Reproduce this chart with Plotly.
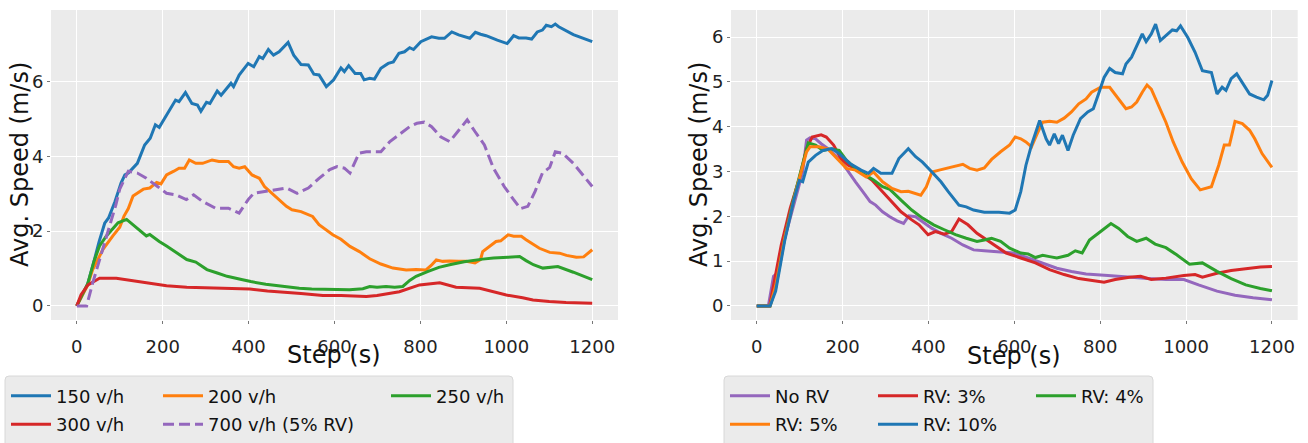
import plotly.graph_objects as go
from plotly.subplots import make_subplots

W, H = 1308, 443

# ---------------- data: left panel (traffic flow) ----------------
FLOW_150 = [(0,0),(25,0.57),(40,1.19),(52,1.72),(65,2.21),(74,2.35),(89,2.79),(103,3.28),(112,3.5),(120,3.55),
            (141,3.81),(158,4.3),(171,4.48),(183,4.84),(192,4.77),(209,5.1),(230,5.5),(238,5.46),(253,5.7),(268,5.41),
            (281,5.37),(289,5.2),(302,5.44),(310,5.41),(327,5.74),(336,5.63),(359,5.95),(365,5.86),(378,6.17),(399,6.48),
            (412,6.39),(425,6.66),(433,6.61),(446,6.85),(458,6.7),(471,6.79),(492,7.04),(505,6.7),(522,6.45),(539,6.44),
            (552,6.19),(564,6.17),(581,5.86),(598,6.04),(615,6.36),(623,6.26),(633,6.42),(648,6.21),(661,6.21),(669,6.04),
            (682,6.08),(693,6.06),(708,6.35),(725,6.48),(737,6.52),(750,6.75),(763,6.79),(775,6.9),(784,6.85),(801,7.06),
            (826,7.19),(843,7.15),(856,7.15),(873,7.32),(889,7.24),(915,7.15),(928,7.31),(940,7.26),(953,7.22),(979,7.1),
            (1002,7.01),(1017,7.22),(1029,7.16),(1046,7.16),(1059,7.13),(1072,7.32),(1084,7.37),(1093,7.5),(1105,7.46),
            (1114,7.53),(1122,7.46),(1156,7.25),(1200,7.06)]
FLOW_200 = [(0,0),(25,0.55),(37,0.97),(61,1.51),(84,1.87),(100,2.1),(110,2.4),(120,2.6),(131,2.94),(155,3.12),
            (170,3.15),(186,3.3),(196,3.26),(209,3.5),(226,3.6),(238,3.68),(251,3.68),(262,3.9),(277,3.81),(293,3.81),
            (315,3.9),(331,3.86),(353,3.86),(365,3.72),(378,3.68),(391,3.72),(408,3.5),(425,3.41),(437,3.19),(454,3.01),
            (467,2.88),(488,2.66),(501,2.57),(522,2.52),(549,2.39),(564,2.17),(596,1.9),(615,1.78),(636,1.59),(658,1.45),
            (682,1.26),(708,1.12),(736,1.01),(767,0.96),(790,0.97),(813,0.96),(825,1.08),(837,1.23),(852,1.19),(868,1.2),
            (889,1.19),(907,1.19),(927,1.15),(940,1.24),(945,1.45),(961,1.59),(976,1.72),(987,1.74),(1004,1.9),(1017,1.86),
            (1035,1.86),(1046,1.77),(1063,1.64),(1077,1.54),(1101,1.43),(1124,1.41),(1140,1.35),(1163,1.3),(1180,1.31),
            (1190,1.41),(1200,1.5)]
FLOW_250 = [(0,0),(26,0.61),(40,1.19),(53,1.6),(69,1.87),(96,2.22),(116,2.31),(139,2.09),(162,1.87),(170,1.91),
            (192,1.72),(209,1.6),(238,1.37),(256,1.24),(277,1.17),(303,0.97),(327,0.88),(350,0.79),(386,0.7),(405,0.65),
            (440,0.58),(483,0.52),(518,0.47),(547,0.45),(592,0.45),(635,0.43),(666,0.46),(682,0.52),(699,0.5),(720,0.52),
            (740,0.5),(759,0.52),(775,0.68),(790,0.79),(818,0.92),(843,1.03),(868,1.1),(902,1.18),(945,1.25),(970,1.28),
            (1004,1.3),(1031,1.32),(1046,1.21),(1063,1.1),(1085,1.01),(1105,1.03),(1120,1.05),(1156,0.9),(1200,0.7)]
FLOW_300 = [(0,0),(10,0.3),(26,0.56),(53,0.74),(92,0.74),(131,0.67),(170,0.59),(209,0.54),(256,0.5),(303,0.48),
            (366,0.45),(403,0.45),(444,0.4),(488,0.37),(522,0.33),(573,0.28),(615,0.28),(674,0.25),(699,0.28),(751,0.38),
            (784,0.52),(798,0.56),(845,0.62),(883,0.5),(938,0.47),(970,0.37),(1000,0.29),(1038,0.22),(1062,0.16),
            (1100,0.12),(1139,0.09),(1200,0.07)]
FLOW_700_RV5 = [(0,0),(23,0),(37,0.61),(53,1.24),(77,2.13),(91,2.7),(100,3.12),(120,3.6),(141,3.55),(162,3.41),
                (188,3.19),(209,3.01),(230,2.97),(255,2.84),(272,2.97),(293,2.79),(323,2.61),(353,2.61),(378,2.48),
                (399,2.84),(412,3.01),(437,3.06),(454,3.1),(488,3.15),(513,3.01),(539,3.15),(564,3.41),(589,3.64),
                (606,3.72),(623,3.68),(636,3.55),(657,4.08),(674,4.12),(708,4.12),(729,4.39),(754,4.61),(775,4.79),
                (792,4.88),(809,4.91),(826,4.79),(847,4.52),(868,4.39),(889,4.7),(909,4.97),(927,4.66),(949,4.3),
                (970,3.68),(995,3.19),(1017,2.84),(1033,2.6),(1050,2.66),(1067,3.06),(1084,3.55),(1101,3.7),
                (1114,4.12),(1131,4.08),(1156,3.81),(1177,3.5),(1200,3.19)]

# ---------------- data: right panel (RV penetration) ----------------
NO_RV = [(0,0),(27,0),(39,0.66),(48,0.73),(61,1.36),(78,1.96),(95,2.55),(107,2.99),(116,3.7),(124,3.75),(137,3.73),
         (150,3.62),(166,3.51),(183,3.36),(200,3.18),(213,2.99),(230,2.77),(247,2.55),(264,2.33),(277,2.25),(293,2.1),
         (310,1.99),(327,1.9),(342,1.84),(354,2.01),(370,1.99),(386,1.88),(408,1.73),(429,1.62),(454,1.51),(480,1.36),
         (505,1.25),(530,1.23),(564,1.21),(598,1.18),(632,1.07),(666,0.96),(699,0.84),(733,0.77),(767,0.71),(818,0.68),
         (868,0.64),(911,0.61),(953,0.59),(995,0.59),(1029,0.47),(1072,0.33),(1114,0.24),(1156,0.18),(1200,0.14)]
RV_3 = [(0,0),(30,0),(57,1.36),(78,2.18),(99,2.84),(116,3.51),(129,3.77),(150,3.82),(162,3.77),(179,3.59),(196,3.29),
        (213,3.14),(230,3.07),(251,2.92),(268,2.81),(293,2.55),(315,2.33),(336,2.1),(361,1.92),(378,1.81),(399,1.59),
        (416,1.66),(437,1.6),(454,1.66),(471,1.94),(492,1.81),(513,1.62),(530,1.51),(556,1.33),(581,1.18),(615,1.07),
        (649,0.96),(682,0.81),(716,0.7),(750,0.61),(784,0.57),(809,0.53),(835,0.59),(868,0.64),(894,0.66),(919,0.59),
        (953,0.62),(995,0.68),(1021,0.7),(1038,0.64),(1072,0.73),(1105,0.79),(1139,0.83),(1173,0.87),(1200,0.88)]
RV_4 = [(0,0),(31,0),(44,0.4),(65,1.51),(86,2.4),(107,3.14),(120,3.64),(137,3.59),(154,3.47),(171,3.5),(192,3.47),
        (209,3.25),(230,3.07),(251,2.93),(272,2.81),(293,2.66),(310,2.6),(336,2.36),(361,2.14),(386,1.96),(412,1.81),
        (437,1.7),(463,1.59),(488,1.51),(513,1.44),(530,1.47),(547,1.51),(568,1.44),(589,1.29),(615,1.18),(632,1.16),
        (649,1.08),(666,1.13),(682,1.1),(699,1.07),(725,1.13),(742,1.23),(758,1.18),(775,1.47),(801,1.66),(825,1.84),
        (843,1.73),(864,1.55),(885,1.44),(907,1.51),(928,1.38),(953,1.3),(978,1.14),(1008,0.93),(1038,0.96),
        (1072,0.77),(1105,0.61),(1139,0.47),(1173,0.39),(1200,0.34)]
RV_5 = [(0,0),(31,0),(44,0.45),(65,1.51),(91,2.55),(116,3.44),(124,3.55),(145,3.55),(166,3.5),(192,3.25),(209,3.07),
        (230,3.03),(255,2.88),(272,2.99),(293,2.77),(315,2.62),(336,2.55),(353,2.56),(370,2.51),(382,2.47),(395,2.66),
        (408,2.99),(425,3.03),(442,3.07),(458,3.1),(480,3.16),(496,3.07),(513,3.03),(530,3.08),(547,3.27),(568,3.44),
        (589,3.59),(602,3.77),(615,3.73),(627,3.66),(640,3.55),(653,3.84),(666,4.1),(682,4.12),(699,4.1),(716,4.19),
        (733,4.33),(750,4.51),(767,4.62),(780,4.77),(801,4.88),(822,4.88),(839,4.66),(860,4.4),(873,4.44),(885,4.55),
        (898,4.77),(909,4.93),(919,4.84),(936,4.47),(953,4.1),(970,3.66),(991,3.21),(1012,2.84),(1033,2.59),
        (1059,2.66),(1076,3.14),(1089,3.59),(1101,3.59),(1114,4.12),(1131,4.07),(1148,3.92),(1160,3.73),(1177,3.4),
        (1200,3.09)]
RV_10 = [(0,0),(31,0),(44,0.33),(65,1.45),(86,2.35),(99,2.8),(107,2.77),(120,3.21),(137,3.36),(154,3.47),(175,3.51),
         (192,3.4),(217,3.18),(243,3.03),(260,2.96),(272,3.07),(289,2.96),(315,2.96),(331,3.29),(353,3.51),(370,3.33),
         (386,3.21),(408,2.99),(429,2.77),(446,2.55),(471,2.25),(488,2.21),(505,2.14),(530,2.09),(564,2.09),(589,2.07),
         (602,2.14),(615,2.55),(627,3.14),(640,3.59),(659,4.14),(674,3.73),(682,3.59),(693,3.84),(703,3.62),(712,3.81),
         (725,3.47),(737,3.81),(754,4.18),(771,4.33),(784,4.4),(796,4.73),(809,5.1),(822,5.3),(835,5.21),(852,5.18),
         (860,5.4),(873,5.55),(890,5.88),(898,6.07),(907,5.9),(919,6.07),(929,6.29),(940,5.92),(953,6.03),(968,6.16),
         (978,6.14),(987,6.25),(1004,5.99),(1021,5.66),(1038,5.25),(1059,5.21),(1072,4.73),(1084,4.88),(1093,4.81),
         (1105,5.07),(1118,5.18),(1131,4.99),(1148,4.73),(1164,4.66),(1181,4.6),(1190,4.7),(1200,5.03)]

X_TICKS = [0, 200, 400, 600, 800, 1000, 1200]
LEFT_Y_TICKS = [0, 2, 4, 6]
RIGHT_Y_TICKS = [0, 1, 2, 3, 4, 5, 6]

BLUE, ORANGE, GREEN, RED, PURPLE = "#1f77b4", "#ff7f0e", "#2ca02c", "#d62728", "#9467bd"

# (name, data, colour, dash, legend symbol start x px, legend row)
left_series = [
    ("150 v/h", FLOW_150, BLUE, "solid", 10, 1),
    ("200 v/h", FLOW_200, ORANGE, "solid", 162, 1),
    ("250 v/h", FLOW_250, GREEN, "solid", 390, 1),
    ("300 v/h", FLOW_300, RED, "solid", 10, 2),
    ("700 v/h (5% RV)", FLOW_700_RV5, PURPLE, "11px,5px", 162, 2),
]
right_series = [
    ("No RV", NO_RV, PURPLE, "solid", 729, 1),
    ("RV: 3%", RV_3, RED, "solid", 877, 1),
    ("RV: 4%", RV_4, GREEN, "solid", 1035, 1),
    ("RV: 5%", RV_5, ORANGE, "solid", 729, 2),
    ("RV: 10%", RV_10, BLUE, "solid", 877, 2),
]

FONT = "DejaVu Sans"
fig = make_subplots(rows=1, cols=2)

legend_layouts = {}
k = 0
for col, series in ((1, left_series), (2, right_series)):
    for name, pts, color, dash, lx, row in series:
        k += 1
        lid = "legend" if k == 1 else f"legend{k}"
        xs = [p[0] for p in pts]
        ys = [p[1] for p in pts]
        fig.add_trace(go.Scatter(x=xs, y=ys, mode="lines", name=name, legend=lid,
                                 line=dict(color=color, width=3, dash=dash)), row=1, col=col)
        if row == 1:
            ypos, yanc = 1 - 396 / H, "middle"
        else:
            ypos, yanc = 0.0, "bottom"
        legend_layouts[lid] = dict(x=(lx - 4) / W, y=ypos, xanchor="left", yanchor=yanc,
                                   bgcolor="rgba(0,0,0,0)", borderwidth=0, itemwidth=40,
                                   font=dict(family=FONT, size=18, color="#111"))

x0L, x1L = 51 / W, 618 / W
x0R, x1R = 731 / W, 1297.7 / W
yb, yt = 1 - 320 / H, 1 - 10 / H

axis_common = dict(showgrid=True, gridcolor="white", gridwidth=1, zeroline=False, showline=False,
                   ticks="outside", ticklen=3, tickcolor="#777", tickwidth=1, automargin=False,
                   tickfont=dict(family=FONT, size=18, color="#222"))

fig.update_xaxes(**axis_common, tickvals=X_TICKS, range=[-60, 1260], ticklabelstandoff=7)
fig.update_yaxes(**axis_common)
fig.update_layout(
    xaxis=dict(domain=[x0L, x1L]),
    xaxis2=dict(domain=[x0R, x1R]),
    yaxis=dict(domain=[yb, yt], range=[-0.3765, 7.9065], tickvals=LEFT_Y_TICKS),
    yaxis2=dict(domain=[yb, yt], range=[-0.3145, 6.6045], tickvals=RIGHT_Y_TICKS),
)

fig.update_layout(width=W, height=H, margin=dict(l=0, r=0, t=0, b=0, pad=0),
                  paper_bgcolor="white", plot_bgcolor="#EBEBEB", showlegend=True,
                  font=dict(family=FONT, color="#111"))
fig.update_layout(**legend_layouts)


def rounded_box(xa, xb, ya, yb_, r=4):
    def px(x):
        return x / W

    def py(y):
        return 1 - y / H
    return (f"M {px(xa)},{py(yb_)} L {px(xa)},{py(ya + r)} Q {px(xa)},{py(ya)} {px(xa + r)},{py(ya)} "
            f"L {px(xb - r)},{py(ya)} Q {px(xb)},{py(ya)} {px(xb)},{py(ya + r)} L {px(xb)},{py(yb_)} Z")


for xa, xb in ((5, 513), (724, 1153)):
    fig.add_shape(type="path", xref="paper", yref="paper", path=rounded_box(xa, xb, 376, 460),
                  fillcolor="#EBEBEB", line=dict(color="#D8D8D8", width=1), layer="below")

titles = [
    ("Step (s)", 334 / W, 1 - 355 / H, 0),
    ("Step (s)", 1014 / W, 1 - 356 / H, 0),
    ("Avg. Speed (m/s)", 20 / W, 1 - 165 / H, -90),
    ("Avg. Speed (m/s)", 699 / W, 1 - 165 / H, -90),
]
for text, x, y, ang in titles:
    fig.add_annotation(text=text, x=x, y=y, xref="paper", yref="paper", showarrow=False,
                       xanchor="center", yanchor="middle", textangle=ang,
                       font=dict(family=FONT, size=24, color="#111"))

fig.write_html("out.html")
